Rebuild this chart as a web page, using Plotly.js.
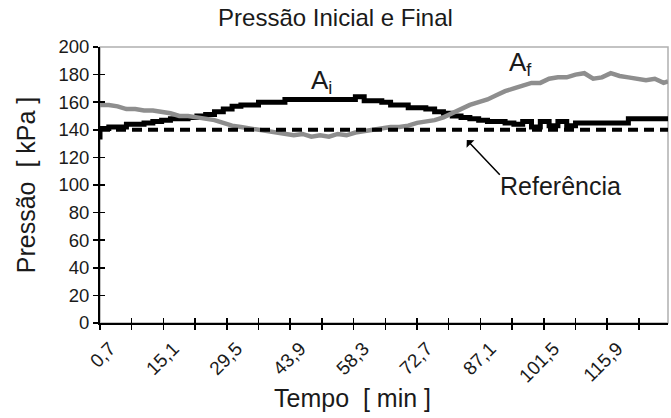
<!DOCTYPE html>
<html>
<head>
<meta charset="utf-8">
<script src="https://cdn.plot.ly/plotly-3.0.1.min.js"></script>
<style>html,body{margin:0;padding:0;background:#fff;}#chart{width:671px;height:418px;}</style>
</head>
<body>
<div id="chart"></div>
<script>
// Time (min)
const tempo = [0.7, 2.7, 4.7, 6.7, 8.7, 10.7, 12.7, 14.7, 16.7, 18.7, 20.7, 22.7, 24.7, 26.7, 28.7, 30.7, 32.7, 34.7, 36.7, 38.7,
  40.7, 42.7, 44.7, 46.7, 48.7, 50.7, 52.7, 54.7, 56.7, 58.7, 60.7, 62.7, 64.7, 66.7, 68.7, 70.7, 72.7, 74.7, 76.7, 78.7,
  80.7, 82.7, 84.7, 86.7, 88.7, 90.7, 92.7, 94.7, 96.7, 98.7, 100.7, 102.7, 104.7, 106.7, 108.7, 110.7, 112.7, 114.7, 116.7, 118.7,
  120.7, 122.7, 124.7, 126.7, 128.7, 129.7];
// Pressure A_i (kPa)
const pressaoAi = [133, 141, 142, 142, 144, 144, 145, 146, 147, 148, 148, 149, 150, 151, 153, 155, 157, 158, 158, 160,
  160, 160, 162, 162, 162, 162, 162, 162, 162, 162, 164, 161, 161, 160, 158, 158, 156, 156, 155, 153,
  152, 150, 149, 148, 147, 146, 146, 145, 144, 146, 142, 146, 143, 146, 143, 145, 145, 145, 145, 145,
  145, 148, 148, 148, 148, 148];
// Pressure A_f (kPa)
const pressaoAf = [158, 158, 157, 155, 155, 154, 154, 153, 152, 150, 150, 149, 148, 147, 145, 143, 142, 141, 140, 139,
  138, 137, 136, 137, 135, 136, 135, 137, 136, 138, 139, 140, 141, 142, 142, 143, 145, 146, 147, 149,
  152, 155, 158, 160, 162, 165, 168, 170, 172, 174, 174, 177, 178, 178, 180, 181, 177, 178, 181, 179,
  178, 177, 176, 177, 174, 175];
// Reference pressure (kPa)
const refTempo = [0.7, 129.7];
const refPressao = [140, 140];

// Axis ticks
const xTickVals = [0.7, 7.9, 15.1, 22.3, 29.5, 36.7, 43.9, 51.1, 58.3, 65.5, 72.7, 79.9, 87.1, 94.3, 101.5, 108.7, 115.9, 123.1];
const xTickText = ['0,7', '', '15,1', '', '29,5', '', '43,9', '', '58,3', '', '72,7', '', '87,1', '', '101,5', '', '115,9', ''];
const yTickVals = [0, 20, 40, 60, 80, 100, 120, 140, 160, 180, 200];

const FONT = '"Liberation Sans", Arial, sans-serif';
const TXT = '#1a1a1a';

const traces = [
  {x: tempo, y: pressaoAi, type: 'scatter', mode: 'lines', line: {color: '#000000', width: 5, shape: 'vh'}, name: 'Ai', hoverinfo: 'skip'},
  {x: tempo, y: pressaoAf, type: 'scatter', mode: 'lines', line: {color: '#8e8e8e', width: 4.5}, name: 'Af', hoverinfo: 'skip'},
  {x: refTempo, y: refPressao, type: 'scatter', mode: 'lines', line: {color: '#000000', width: 4, dash: '10px,6px'}, name: 'Ref', hoverinfo: 'skip',
    xaxis: 'x2', yaxis: 'y2'}
];

const xr = [0.7, 129.7];
const yr = [0, 200];

const layout = {
  width: 671, height: 418,
  margin: {l: 100, r: 3, t: 47, b: 95},
  paper_bgcolor: '#ffffff', plot_bgcolor: '#ffffff',
  showlegend: false,
  font: {family: FONT, color: TXT},
  title: {text: 'Pressão Inicial e Final', font: {size: 24, family: FONT, color: TXT}, x: 0.5, xanchor: 'center', y: 0.957, yanchor: 'middle'},
  xaxis: {
    range: xr, tickmode: 'array', tickvals: xTickVals, ticktext: xTickText,
    tickangle: -45, tickfont: {size: 19, family: FONT, color: TXT}, ticklabelshift: 10,
    ticks: 'outside', ticklen: 5, tickwidth: 1.5, tickcolor: '#000',
    showline: true, linecolor: '#000', linewidth: 2, showgrid: false, zeroline: false
  },
  yaxis: {
    range: yr, tickmode: 'array', tickvals: yTickVals,
    tickfont: {size: 18.5, family: FONT, color: TXT},
    ticks: 'outside', ticklen: 5, tickwidth: 1.5, tickcolor: '#000',
    showline: true, linecolor: '#000', linewidth: 2, showgrid: false, zeroline: false,
    title: {text: 'Pressão&nbsp; [ kPa ]', font: {size: 25, family: FONT, color: TXT}, standoff: 16}
  },
  xaxis2: {
    range: xr, overlaying: 'x', anchor: 'y2', tickmode: 'array', tickvals: xTickVals, showticklabels: false,
    ticks: 'inside', ticklen: 5, tickwidth: 1.5, tickcolor: '#000', showline: false, showgrid: false, zeroline: false, side: 'bottom'
  },
  yaxis2: {
    range: yr, overlaying: 'y', anchor: 'x2', tickmode: 'array', tickvals: yTickVals, showticklabels: false,
    ticks: 'inside', ticklen: 5, tickwidth: 1.5, tickcolor: '#000', showline: false, showgrid: false, zeroline: false, side: 'left'
  },
  shapes: [
    {type: 'rect', xref: 'paper', yref: 'paper', x0: 0, x1: 1, y0: 0, y1: 1, line: {color: '#b0b0b0', width: 1.5}, layer: 'below'}
  ],
  annotations: [
    {x: 0.4437, y: -0.272, xref: 'paper', yref: 'paper', text: 'Tempo&nbsp; [ min ]', showarrow: false, xanchor: 'center', yanchor: 'middle', font: {size: 25, family: FONT, color: TXT}},
    {x: 51.1, y: 175, xref: 'x', yref: 'y', text: 'A<sub>i</sub>', showarrow: false, font: {size: 26, family: FONT, color: TXT}},
    {x: 96.3, y: 188, xref: 'x', yref: 'y', text: 'A<sub>f</sub>', showarrow: false, font: {size: 26, family: FONT, color: TXT}},
    {x: 105.2, y: 99.5, xref: 'x', yref: 'y', text: 'Referência', showarrow: false, font: {size: 25, family: FONT, color: TXT}},
    {x: 84.0, y: 132.6, xref: 'x', yref: 'y', text: ' ', showarrow: true, ax: 36, ay: 38, arrowhead: 1, arrowsize: 1.2, arrowwidth: 1.5, arrowcolor: '#000', standoff: 0, startstandoff: 0}
  ]
};

Plotly.newPlot('chart', traces, layout, {displayModeBar: false, staticPlot: true});
</script>
</body>
</html>
